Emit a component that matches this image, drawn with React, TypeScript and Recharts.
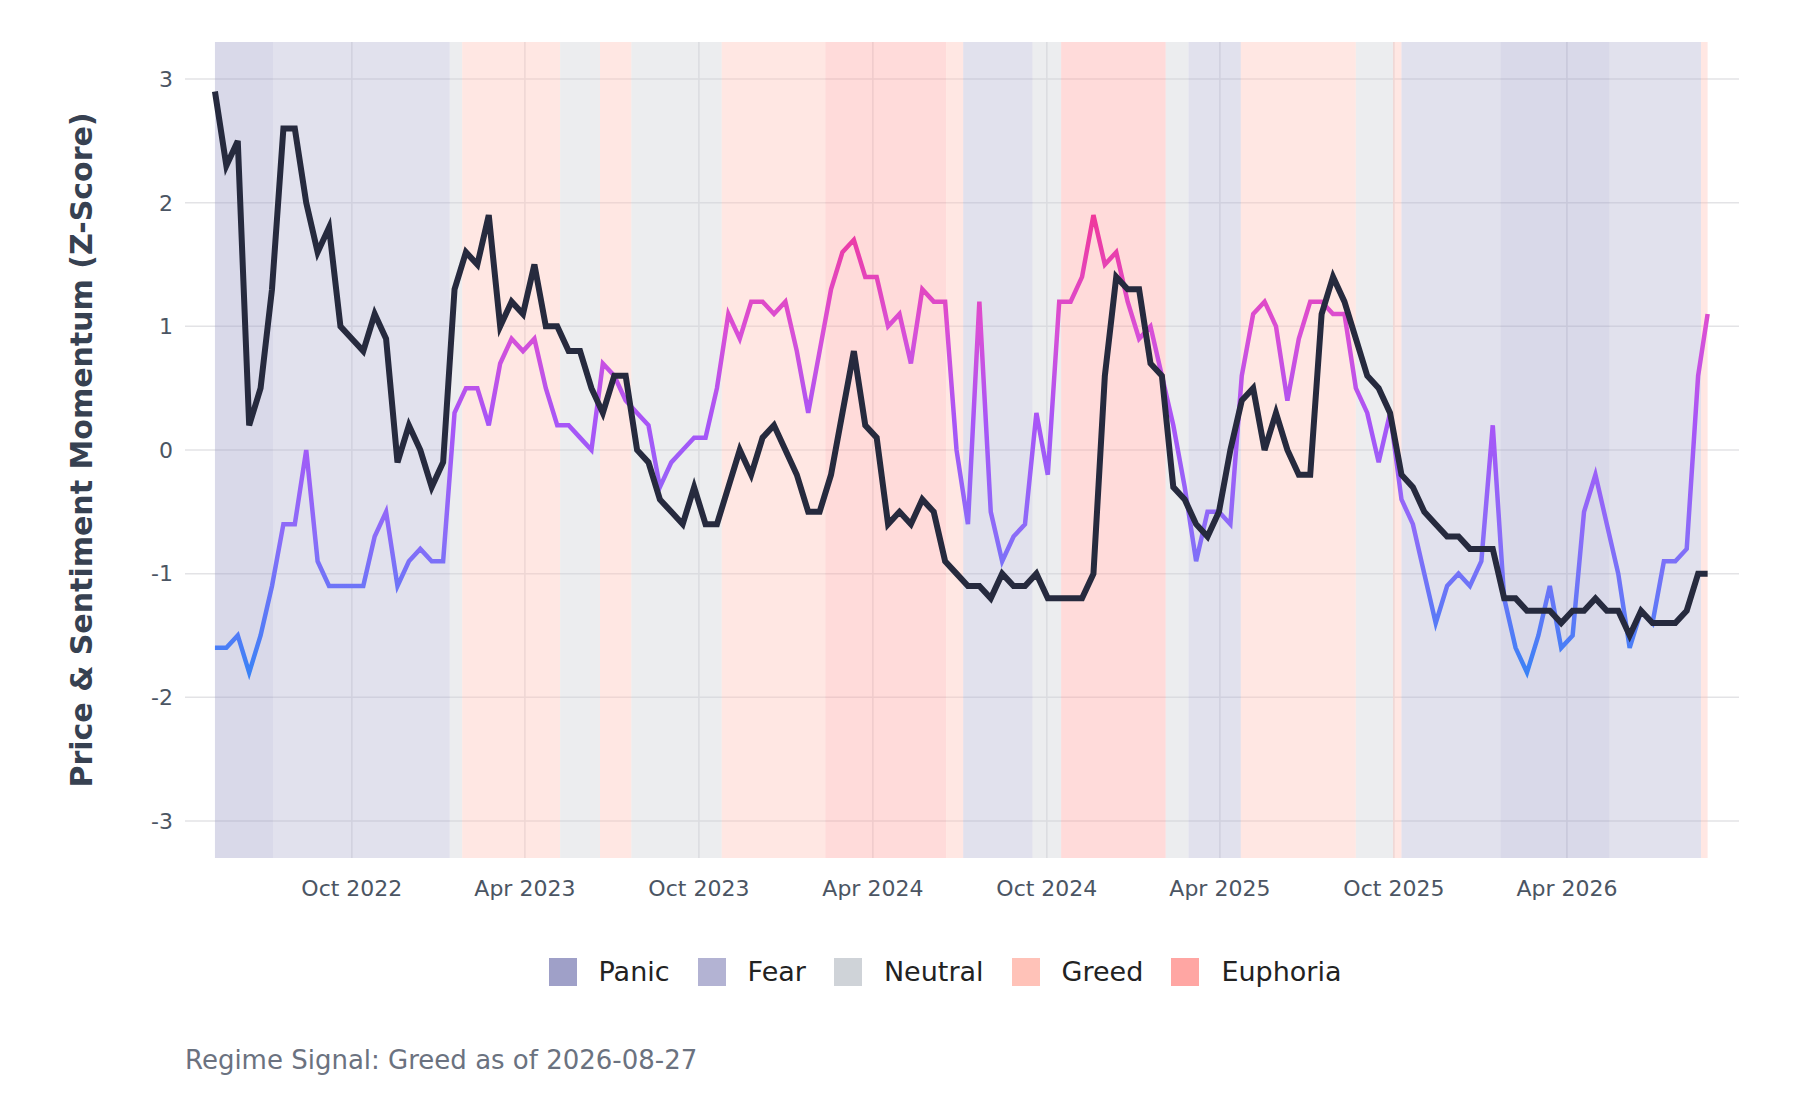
import React from 'react';
import { LineChart, Line, XAxis, YAxis, CartesianGrid, ReferenceArea } from 'recharts';

const START = '2022-05-10';
const END = '2026-08-27';
const STEP_DAYS = 12;

const priceMomentum = [2.9,2.3,2.5,0.2,0.5,1.3,2.6,2.6,2.0,1.6,1.8,1.0,0.9,0.8,1.1,0.9,-0.1,0.2,0.0,-0.3,-0.1,1.3,1.6,1.5,1.9,1.0,1.2,1.1,1.5,1.0,1.0,0.8,0.8,0.5,0.3,0.6,0.6,0.0,-0.1,-0.4,-0.5,-0.6,-0.3,-0.6,-0.6,-0.3,0.0,-0.2,0.1,0.2,0.0,-0.2,-0.5,-0.5,-0.2,0.3,0.8,0.2,0.1,-0.6,-0.5,-0.6,-0.4,-0.5,-0.9,-1.0,-1.1,-1.1,-1.2,-1.0,-1.1,-1.1,-1.0,-1.2,-1.2,-1.2,-1.2,-1.0,0.6,1.4,1.3,1.3,0.7,0.6,-0.3,-0.4,-0.6,-0.7,-0.5,0.0,0.4,0.5,0.0,0.3,0.0,-0.2,-0.2,1.1,1.4,1.2,0.9,0.6,0.5,0.3,-0.2,-0.3,-0.5,-0.6,-0.7,-0.7,-0.8,-0.8,-0.8,-1.2,-1.2,-1.3,-1.3,-1.3,-1.4,-1.3,-1.3,-1.2,-1.3,-1.3,-1.5,-1.3,-1.4,-1.4,-1.4,-1.3,-1.0,-1.0];

const sentimentMomentum = [-1.6,-1.6,-1.5,-1.8,-1.5,-1.1,-0.6,-0.6,0.0,-0.9,-1.1,-1.1,-1.1,-1.1,-0.7,-0.5,-1.1,-0.9,-0.8,-0.9,-0.9,0.3,0.5,0.5,0.2,0.7,0.9,0.8,0.9,0.5,0.2,0.2,0.1,0.0,0.7,0.6,0.4,0.3,0.2,-0.3,-0.1,0.0,0.1,0.1,0.5,1.1,0.9,1.2,1.2,1.1,1.2,0.8,0.3,0.8,1.3,1.6,1.7,1.4,1.4,1.0,1.1,0.7,1.3,1.2,1.2,0.0,-0.6,1.2,-0.5,-0.9,-0.7,-0.6,0.3,-0.2,1.2,1.2,1.4,1.9,1.5,1.6,1.2,0.9,1.0,0.6,0.2,-0.3,-0.9,-0.5,-0.5,-0.6,0.6,1.1,1.2,1.0,0.4,0.9,1.2,1.2,1.1,1.1,0.5,0.3,-0.1,0.3,-0.4,-0.6,-1.0,-1.4,-1.1,-1.0,-1.1,-0.9,0.2,-1.2,-1.6,-1.8,-1.5,-1.1,-1.6,-1.5,-0.5,-0.2,-0.6,-1.0,-1.6,-1.3,-1.4,-0.9,-0.9,-0.8,0.6,1.1];

const regimeStarts = ['2022-05-10','2022-07-10','2023-01-12','2023-01-25','2023-05-08','2023-06-19','2023-07-22','2023-10-25','2024-02-11','2024-06-17','2024-07-05','2024-09-16','2024-10-16','2025-02-03','2025-02-27','2025-04-23','2025-08-22','2025-09-30','2025-10-09','2026-01-21','2026-05-16','2026-08-20'];
const regimeNames = ['Panic','Fear','Neutral','Greed','Neutral','Greed','Neutral','Greed','Euphoria','Greed','Fear','Neutral','Euphoria','Neutral','Fear','Greed','Neutral','Greed','Fear','Panic','Fear','Greed'];

const legendNames = ['Panic','Fear','Neutral','Greed','Euphoria'];
const regimeColors: Record<string,string> = { Panic:'#9fa0c8', Fear:'#b3b3d3', Neutral:'#cfd3d8', Greed:'#ffc2b8', Euphoria:'#ffa6a3' };

const tickLabels = ['2022-10-01','2023-04-01','2023-10-01','2024-04-01','2024-10-01','2025-04-01','2025-10-01','2026-04-01'];
const yTicks = [-3,-2,-1,0,1,2,3];
const MONTHS = ['Jan','Feb','Mar','Apr','May','Jun','Jul','Aug','Sep','Oct','Nov','Dec'];

const DAY = 86400000;
const ts = (s: string) => Date.parse(s + 'T00:00:00Z');
const startTs = ts(START);
const endTs = ts(END);

const data = priceMomentum.map((p, i) => ({
  t: i === priceMomentum.length - 1 ? endTs : startTs + i * STEP_DAYS * DAY,
  price: p,
  sent: sentimentMomentum[i],
}));

const font = '"DejaVu Sans", sans-serif';

export default function App() {
  const ticks = tickLabels.map(ts);
  return (
    <div style={{ position: 'fixed', left: 0, top: 0, width: 1800, height: 1100, background: '#fff', fontFamily: font }}>
      <LineChart width={1800} height={920} data={data} margin={{ top: 42, right: 61, left: 0, bottom: 0 }}>
        <defs>
          <linearGradient id="sentGrad" x1="0" y1="0" x2="0" y2="1">
            <stop offset="0%" stopColor="#f0389a" />
            <stop offset="25%" stopColor="#d94fd6" />
            <stop offset="45%" stopColor="#a855f7" />
            <stop offset="70%" stopColor="#8b6cf8" />
            <stop offset="100%" stopColor="#3b82f6" />
          </linearGradient>
        </defs>
        <CartesianGrid stroke="#e3e3e6" strokeWidth={1.5} syncWithTicks />
        <XAxis dataKey="t" type="number" domain={[startTs - 31.5 * DAY, endTs + 33 * DAY]} ticks={ticks}
          tickFormatter={(v: number) => { const d = new Date(v); return MONTHS[d.getUTCMonth()] + ' ' + d.getUTCFullYear(); }}
          axisLine={false} tickLine={false} height={62} tick={{ fill: '#4b5563', fontSize: 22, fontFamily: font }} dy={14} />
        <YAxis type="number" domain={[-3.3, 3.3]} ticks={yTicks} axisLine={false} tickLine={false} width={185}
          tick={{ fill: '#4b5563', fontSize: 22, fontFamily: font }} dx={-4} />
        {regimeStarts.map((s, i) => (
          <ReferenceArea key={i} x1={ts(s)} x2={i + 1 < regimeStarts.length ? ts(regimeStarts[i + 1]) : endTs}
            y1={-3.3} y2={3.3} fill={regimeColors[regimeNames[i]]} fillOpacity={0.4} stroke="none" ifOverflow="hidden" />
        ))}
        <Line type="linear" dataKey="sent" stroke="url(#sentGrad)" strokeWidth={4.5} dot={false} isAnimationActive={false} />
        <Line type="linear" dataKey="price" stroke="#262a3e" strokeWidth={6} dot={false} isAnimationActive={false} />
      </LineChart>
      <div style={{ position: 'absolute', left: 81, top: 450, transform: 'translate(-50%, -50%) rotate(-90deg)', whiteSpace: 'nowrap', fontSize: 30, fontWeight: 'bold', color: '#374151' }}>
        Price &amp; Sentiment Momentum (Z-Score)
      </div>
      <div style={{ position: 'absolute', left: 0, width: 1800, top: 956, display: 'flex', justifyContent: 'center', alignItems: 'center', fontSize: 27, color: '#222', paddingLeft: 90, boxSizing: 'border-box' }}>
        {legendNames.map((n) => (
          <div key={n} style={{ display: 'flex', alignItems: 'center', margin: '0 14px' }}>
            <span style={{ width: 28, height: 28, background: regimeColors[n], display: 'inline-block', marginRight: 22 }} />
            <span>{n}</span>
          </div>
        ))}
      </div>
      <div style={{ position: 'absolute', left: 185, top: 1045, fontSize: 26, color: '#6b7280' }}>
        Regime Signal: Greed as of 2026-08-27
      </div>
    </div>
  );
}
